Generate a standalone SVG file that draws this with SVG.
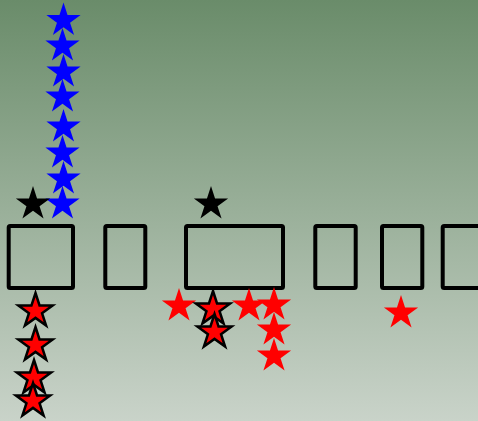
<svg xmlns="http://www.w3.org/2000/svg" xmlns:xlink="http://www.w3.org/1999/xlink" width="478" height="421" viewBox="0 0 478 421">
  <defs>
    <linearGradient id="bg" x1="0" y1="0" x2="0" y2="1">
      <stop offset="0" stop-color="#6a8c6a"/>
      <stop offset="1" stop-color="#c9d3c9"/>
    </linearGradient>
    <path id="star" d="M0,-18 L4.04,-5.56 L17.12,-5.56 L6.54,2.13 L10.58,14.56 L0,6.87 L-10.58,14.56 L-6.54,2.13 L-17.12,-5.56 L-4.04,-5.56 Z"/>
  </defs>
  <style>
    .box { fill: none; stroke: #000; stroke-width: 4; stroke-linejoin: round; }
    .blue { fill: #0000ff; }
    .black { fill: #000; }
    .red { fill: #ff0000; }
    .redo { fill: #ff0000; stroke: #000; stroke-width: 2.5; stroke-linejoin: miter; }
  </style>
  <rect width="478" height="421" fill="url(#bg)"/>
  <g id="nodes">
    <g id="box1"><rect class="box" x="8.7" y="226" width="64.3" height="62" rx="1.5"/></g>
    <g id="box2"><rect class="box" x="105.3" y="226" width="40" height="62" rx="1.5"/></g>
    <g id="box3"><rect class="box" x="186" y="226" width="97" height="62" rx="1.5"/></g>
    <g id="box4"><rect class="box" x="315.3" y="226" width="40.4" height="62" rx="1.5"/></g>
    <g id="box5"><rect class="box" x="382" y="226" width="40.3" height="62" rx="1.5"/></g>
    <g id="box6"><rect class="box" x="442.7" y="226" width="60" height="62" rx="1.5"/></g>
  </g>
  <g id="connectors"></g>
  <g id="stars">
    <g id="blue-stars" class="blue">
      <use xlink:href="#star" x="63.5" y="20.5"/>
      <use xlink:href="#star" x="62.5" y="46"/>
      <use xlink:href="#star" x="63.5" y="72"/>
      <use xlink:href="#star" x="62.5" y="97"/>
      <use xlink:href="#star" x="63.5" y="127"/>
      <use xlink:href="#star" x="62.5" y="153"/>
      <use xlink:href="#star" x="63.5" y="179"/>
      <use xlink:href="#star" x="62.5" y="204"/>
    </g>
    <g id="black-stars" class="black">
      <use xlink:href="#star" x="33" y="204"/>
      <use xlink:href="#star" x="211" y="204"/>
    </g>
    <g id="red-stars" class="red">
      <use xlink:href="#star" x="179" y="306"/>
      <use xlink:href="#star" x="249" y="306"/>
      <use xlink:href="#star" x="274" y="305"/>
      <use xlink:href="#star" x="274" y="330"/>
      <use xlink:href="#star" x="274" y="356"/>
      <use xlink:href="#star" x="401" y="313"/>
    </g>
    <g id="red-outlined-stars" class="redo">
      <use xlink:href="#star" x="35.5" y="311"/>
      <use xlink:href="#star" x="35.5" y="345"/>
      <use xlink:href="#star" x="34" y="378"/>
      <use xlink:href="#star" x="33" y="401"/>
      <use xlink:href="#star" x="213" y="309"/>
      <use xlink:href="#star" x="214.5" y="332"/>
    </g>
  </g>
</svg>
